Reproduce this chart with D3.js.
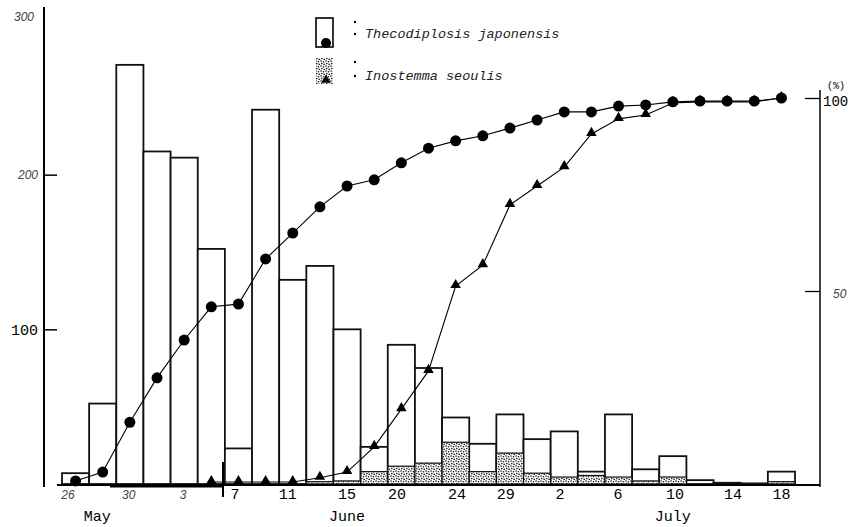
<!DOCTYPE html>
<html>
<head>
<meta charset="utf-8">
<script src="https://cdn.jsdelivr.net/npm/d3@7"></script>
<style>
  body { margin: 0; background: #fff; }
  svg { display: block; }
  .mono { font-family: "Liberation Mono", "DejaVu Sans Mono", monospace; }
  .ital { font-family: "Liberation Sans", Arial, sans-serif; font-style: italic; fill: #444; }
</style>
</head>
<body>
<svg id="chart"></svg>
<script>
// Total Thecodiplosis japonensis per 2-day period (left axis)
const totals = [7, 52, 271, 215, 211, 152, 23, 242, 132, 141, 100, 24, 90, 75, 43, 26, 45, 29, 34, 8, 45, 9.5, 18, 2.5, 0.8, 0.4, 8];
// Inostemma seoulis part of each bar (stippled)
const parasite = [0, 0, 0, 0, 0, 0, 0, 0, 0, 1.5, 2, 8, 11.5, 13.5, 27, 8, 20, 7, 4.5, 5.5, 4.5, 2, 4.5, 0, 0, 0, 1.5];
// cumulative % (right axis)
const cumHost = [0.8, 3.1, 16, 27.5, 37.3, 45.9, 46.6, 58.3, 65, 71.8, 77.2, 78.8, 83.2, 87, 88.9, 90.2, 92.2, 94.3, 96.4, 96.4, 97.9, 98.2, 99, 99.2, 99.2, 99.2, 100];
const cumPara = [null, null, null, null, null, 0.5, 0.5, 0.5, 0.5, 1.6, 3.1, 9.6, 19.4, 29.3, 51.3, 56.7, 72.3, 77.2, 82.1, 90.7, 94.6, 95.6, 98.7, 99, 99, 99, 100];
// date tick labels, position given in bar units
const dayLabels = ["26", "30", "3", "7", "11", "15", "20", "24", "29", "2", "6", "10", "14", "18"];
const dayPos = [0.22, 2.46, 4.46, 6.37, 8.32, 10.5, 12.34, 14.55, 16.35, 18.34, 20.48, 22.58, 24.72, 26.5];
const italicDays = ["26", "30", "3"];
const months = ["May", "June", "July"];
const monthPos = [1.3, 10.5, 22.5];
const legendNames = ["Thecodiplosis japonensis", "Inostemma seoulis"];

const W = 853, H = 527;
const svg = d3.select("#chart").attr("width", W).attr("height", H);

const idx = d3.range(totals.length);
const xBand = d3.scaleBand().domain(idx).range([62, 795]).paddingInner(0).paddingOuter(0);
const xLin = d3.scaleLinear().domain([0, totals.length]).range([62, 795]);
const yL = d3.scaleLinear().domain([0, 300]).range([484, 20]);
const yR = d3.scaleLinear().domain([0, 100]).range([484, 98]);

// stipple pattern
const defs = svg.append("defs");
const pat = defs.append("pattern").attr("id", "stip")
  .attr("patternUnits", "userSpaceOnUse").attr("width", 5).attr("height", 5);
pat.append("rect").attr("width", 5).attr("height", 5).attr("fill", "#fff");
[[1, 1], [3.5, 1.8], [1.8, 3.6], [4.2, 4.3]].forEach(p => {
  pat.append("circle").attr("cx", p[0]).attr("cy", p[1]).attr("r", 0.8).attr("fill", "#111");
});

// bars
svg.append("g").selectAll("rect").data(idx).join("rect")
  .attr("x", i => xBand(i))
  .attr("y", i => yL(totals[i]))
  .attr("width", xBand.bandwidth())
  .attr("height", i => yL(0) - yL(totals[i]))
  .attr("fill", "#fff")
  .attr("stroke", "#111")
  .attr("stroke-width", 1.8);

svg.append("g").selectAll("rect").data(idx.filter(i => parasite[i] > 0)).join("rect")
  .attr("x", i => xBand(i))
  .attr("y", i => yL(parasite[i]))
  .attr("width", xBand.bandwidth())
  .attr("height", i => yL(0) - yL(parasite[i]))
  .attr("fill", "url(#stip)")
  .attr("stroke", "#111")
  .attr("stroke-width", 1.2);

// baseline and axes
svg.append("line").attr("x1", 57).attr("x2", 820).attr("y1", yL(0) + 1).attr("y2", yL(0) + 1)
  .attr("stroke", "#000").attr("stroke-width", 2);
svg.append("line").attr("x1", 110).attr("x2", 223).attr("y1", yL(0) + 2.5).attr("y2", yL(0) + 2.5)
  .attr("stroke", "#000").attr("stroke-width", 2);
svg.append("line").attr("x1", 223).attr("x2", 223).attr("y1", 462).attr("y2", 497)
  .attr("stroke", "#000").attr("stroke-width", 2);

svg.append("line").attr("x1", 44).attr("x2", 44).attr("y1", 7).attr("y2", 487)
  .attr("stroke", "#000").attr("stroke-width", 2);
const leftAxis = svg.append("g").attr("transform", "translate(44,0)")
  .call(d3.axisLeft(yL).tickValues([100, 200, 300]).tickSize(-13).tickPadding(6));
leftAxis.select(".domain").remove();
leftAxis.selectAll(".tick").filter(d => d === 300).select("line").remove();
leftAxis.selectAll(".tick line").attr("stroke-width", 1.5);
leftAxis.selectAll(".tick text").attr("fill", null).attr("font-family", null).attr("font-size", null)
  .attr("class", d => d === 100 ? "mono" : "ital")
  .style("font-size", d => d === 100 ? "15px" : "12px")
  .attr("fill", d => d === 100 ? "#000" : "#444")
  .attr("dx", d => d === 300 ? -4 : 0)
  .attr("dy", d => d === 300 ? "0.05em" : "0.32em");

svg.append("line").attr("x1", 820).attr("x2", 820).attr("y1", 90).attr("y2", 487)
  .attr("stroke", "#000").attr("stroke-width", 1.5);
const rightAxis = svg.append("g").attr("transform", "translate(820,0)")
  .call(d3.axisRight(yR).tickValues([50, 100]).tickSize(-15).tickFormat(""));
rightAxis.select(".domain").remove();
rightAxis.selectAll(".tick line").attr("stroke-width", 1.3);
svg.append("text").attr("class", "ital").attr("x", 833).attr("y", yR(50) + 7)
  .style("font-size", "12px").text("50");
svg.append("text").attr("class", "mono").attr("x", 823).attr("y", yR(100) + 8)
  .style("font-size", "14px").text("100");
svg.append("text").attr("class", "mono").attr("x", 827).attr("y", yR(100) - 9)
  .style("font-size", "10px").text("(%)");

// date labels
svg.append("g").selectAll("text").data(dayLabels).join("text")
  .attr("x", (d, i) => xLin(dayPos[i]))
  .attr("y", 499)
  .attr("text-anchor", "middle")
  .attr("class", d => italicDays.includes(d) ? "ital" : "mono")
  .style("font-size", d => italicDays.includes(d) ? "12px" : "15px")
  .text(d => d);
svg.append("g").selectAll("text").data(months).join("text")
  .attr("x", (d, i) => xLin(monthPos[i]))
  .attr("y", 521)
  .attr("text-anchor", "middle")
  .attr("class", "mono")
  .style("font-size", "15px")
  .text(d => d);

// cumulative lines
const lineH = d3.line().x((d, i) => xBand(i) + xBand.bandwidth() / 2).y(d => yR(d));
const lineP = d3.line().defined(d => d !== null)
  .x((d, i) => xBand(i) + xBand.bandwidth() / 2).y(d => yR(d));
svg.append("path").datum(cumPara).attr("d", lineP).attr("fill", "none").attr("stroke", "#000").attr("stroke-width", 1.1);
svg.append("path").datum(cumHost).attr("d", lineH).attr("fill", "none").attr("stroke", "#000").attr("stroke-width", 1.1);

const tri = d3.symbol().type(d3.symbolTriangle).size(48);
svg.append("g").selectAll("path").data(idx.filter(i => cumPara[i] !== null)).join("path")
  .attr("d", tri)
  .attr("transform", i => `translate(${xBand(i) + xBand.bandwidth() / 2},${yR(cumPara[i]) - 1})`)
  .attr("fill", "#000");
svg.append("g").selectAll("circle").data(idx).join("circle")
  .attr("cx", i => xBand(i) + xBand.bandwidth() / 2)
  .attr("cy", i => yR(cumHost[i]))
  .attr("r", 5.5)
  .attr("fill", "#000");

// legend
const lg = svg.append("g");
lg.append("rect").attr("x", 316).attr("y", 18).attr("width", 17).attr("height", 29)
  .attr("fill", "#fff").attr("stroke", "#000").attr("stroke-width", 1.6);
lg.append("circle").attr("cx", 326).attr("cy", 43).attr("r", 5).attr("fill", "#000");
lg.append("rect").attr("x", 316).attr("y", 58).attr("width", 17).attr("height", 26)
  .attr("fill", "url(#stip)").attr("stroke", "none");
lg.append("path").attr("d", d3.symbol().type(d3.symbolTriangle).size(40))
  .attr("transform", "translate(326,80)").attr("fill", "#000");
[[22, 34], [62, 76]].forEach(p => {
  p.forEach(yy => lg.append("circle").attr("cx", 355).attr("cy", yy).attr("r", 1.2).attr("fill", "#000"));
});
lg.selectAll("text.lgt").data(legendNames).join("text")
  .attr("class", "mono lgt")
  .attr("x", 365)
  .attr("y", (d, i) => i === 0 ? 38 : 80)
  .style("font-size", "13.5px")
  .style("font-style", "italic")
  .attr("fill", "#222")
  .text(d => d);
</script>
</body>
</html>
